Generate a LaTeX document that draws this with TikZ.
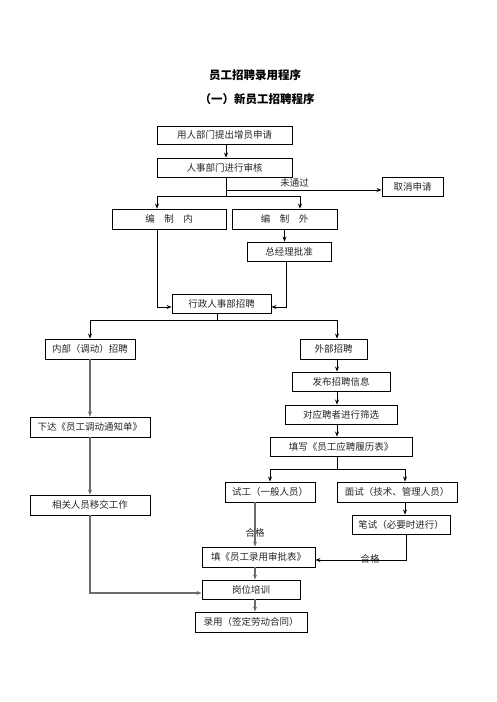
\documentclass[tikz,border=0pt]{standalone}
\usepackage{fontspec}
\setmainfont{Noto Sans CJK SC}
\usetikzlibrary{arrows.meta,calc}
\tikzset{
  box/.style={draw=black, line width=0.9pt, inner sep=0pt, text=black!85,
    font=\fontsize{9.5}{11}\selectfont, anchor=center},
  conn/.style={draw=black, line width=0.8pt},
  gconn/.style={draw=gray!85!black, line width=1.5pt},
  arr/.style={-{Stealth[length=5pt,width=4pt]}},
  lbl/.style={inner sep=0pt, text=black!85, font=\fontsize{9.5}{11}\selectfont},
  ttl/.style={inner sep=0pt, font=\fontsize{11.5}{13}\selectfont\bfseries}
}
\begin{document}
\begin{tikzpicture}[x=1pt,y=-1pt]
\useasboundingbox (0,0) rectangle (496,702);
% titles
\node[ttl] (t1) at (255,75) {员工招聘录用程序};
\node[ttl] (t2) at (257,99) {（一）新员工招聘程序};
% boxes
\node[box, minimum width=135pt, minimum height=18pt] (b1) at (224.5,135) {用人部门提出增员申请};
\node[box, minimum width=135pt, minimum height=19pt] (b2) at (224.5,167.5) {人事部门进行审核};
\node[box, minimum width=61pt, minimum height=19pt] (cancel) at (412.5,186.5) {取消申请};
\node[box, minimum width=114pt, minimum height=20pt] (nei) at (169,219) {编\quad 制\quad 内};
\node[box, minimum width=105pt, minimum height=20pt] (wai) at (284.5,219) {编\quad 制\quad 外};
\node[box, minimum width=84pt, minimum height=19pt] (gm) at (289,251.5) {总经理批准};
\node[box, minimum width=99pt, minimum height=19pt] (hr) at (221.5,303.5) {行政人事部招聘};
\node[box, minimum width=90pt, minimum height=20pt] (innr) at (90,349) {内部（调动）招聘};
\node[box, minimum width=67pt, minimum height=20pt] (extr) at (333.5,349) {外部招聘};
\node[box, minimum width=98pt, minimum height=19pt] (pub) at (341,381.5) {发布招聘信息};
\node[box, minimum width=112pt, minimum height=19pt] (scr) at (341,414.5) {对应聘者进行筛选};
\node[box, minimum width=142pt, minimum height=19pt] (fill) at (341,446.5) {填写《员工应聘履历表》};
\node[box, minimum width=90pt, minimum height=20pt] (trial) at (270,492) {试工（一般人员）};
\node[box, minimum width=120pt, minimum height=20pt] (intv) at (397,492) {面试（技术、管理人员）};
\node[box, minimum width=98pt, minimum height=19pt] (writ) at (401,524.5) {笔试（必要时进行）};
\node[box, minimum width=113pt, minimum height=20pt] (appr) at (258.5,557) {填《员工录用审批表》};
\node[box, minimum width=98pt, minimum height=19pt] (train) at (251,589.5) {岗位培训};
\node[box, minimum width=112pt, minimum height=20pt] (hire) at (251,622) {录用（签定劳动合同）};
\node[box, minimum width=120pt, minimum height=20pt] (notice) at (90,427) {下达《员工调动通知单》};
\node[box, minimum width=120pt, minimum height=20pt] (hand) at (90,505) {相关人员移交工作};
% labels
\node[lbl] (l1) at (294.5,182.5) {未通过};
\node[lbl] (l2) at (255,533) {合格};
\node[lbl] (l3) at (370,558.5) {合格};
% connectors
\coordinate (j1) at (226,190);
\coordinate (j2) at (226,196);
\draw[conn,arr] ([xshift=1.5pt]b1.south) -- ([xshift=1.5pt]b2.north);
\draw[conn] ([xshift=1.5pt]b2.south) -- (j2);
\draw[conn,arr] (j1) -- (j1 -| cancel.west);
\draw[conn,arr] (j2) -| ([xshift=-12pt]nei.north);
\draw[conn,arr] (j2) -| ([xshift=15.5pt]wai.north);
\draw[conn,arr] (wai.south) -- (wai.south |- gm.north);
\draw[conn,arr] ([xshift=-12pt]nei.south) |- ([yshift=-3.5pt]hr.west);
\draw[conn,arr] ([xshift=-3pt]gm.south) |- ([yshift=-3.5pt]hr.east);
\coordinate (j3) at (217,320);
\draw[conn] ([xshift=-4.5pt]hr.south) -- (j3);
\draw[conn,arr] (j3) -| (innr.north);
\draw[conn,arr] (j3) -| ([xshift=3.5pt]extr.north);
\draw[conn,arr] ([xshift=3.5pt]extr.south) -- ([xshift=-4pt]pub.north);
\draw[conn,arr] ([xshift=-4pt]pub.south) -- ([xshift=-4pt]scr.north);
\draw[conn,arr] ([xshift=-4pt]scr.south) -- ([xshift=-4pt]fill.north);
\coordinate (j4) at (337,469);
\draw[conn] ([xshift=-4pt]fill.south) -- (j4);
\draw[conn,arr] (j4) -| (trial.north);
\draw[conn,arr] (j4) -| ([xshift=8pt]intv.north);
\draw[conn,arr] ([xshift=8pt]intv.south) -- ([xshift=4pt]writ.north);
\draw[conn,arr] ([xshift=5pt]writ.south) |- ([yshift=-3pt]appr.east);
\draw[gconn,arr] ([xshift=-15pt]trial.south) -- ([xshift=-3.5pt]appr.north);
\draw[gconn,arr] ([xshift=-3.5pt]appr.south) -- ([xshift=4pt]train.north);
\draw[gconn,arr] ([xshift=4pt]train.south) -- ([xshift=4pt]hire.north);
\draw[gconn,arr] (innr.south) -- (notice.north);
\draw[gconn,arr] (notice.south) -- (hand.north);
\draw[gconn,arr] (hand.south) |- ([yshift=-3.5pt]train.west);
\end{tikzpicture}
\end{document}
